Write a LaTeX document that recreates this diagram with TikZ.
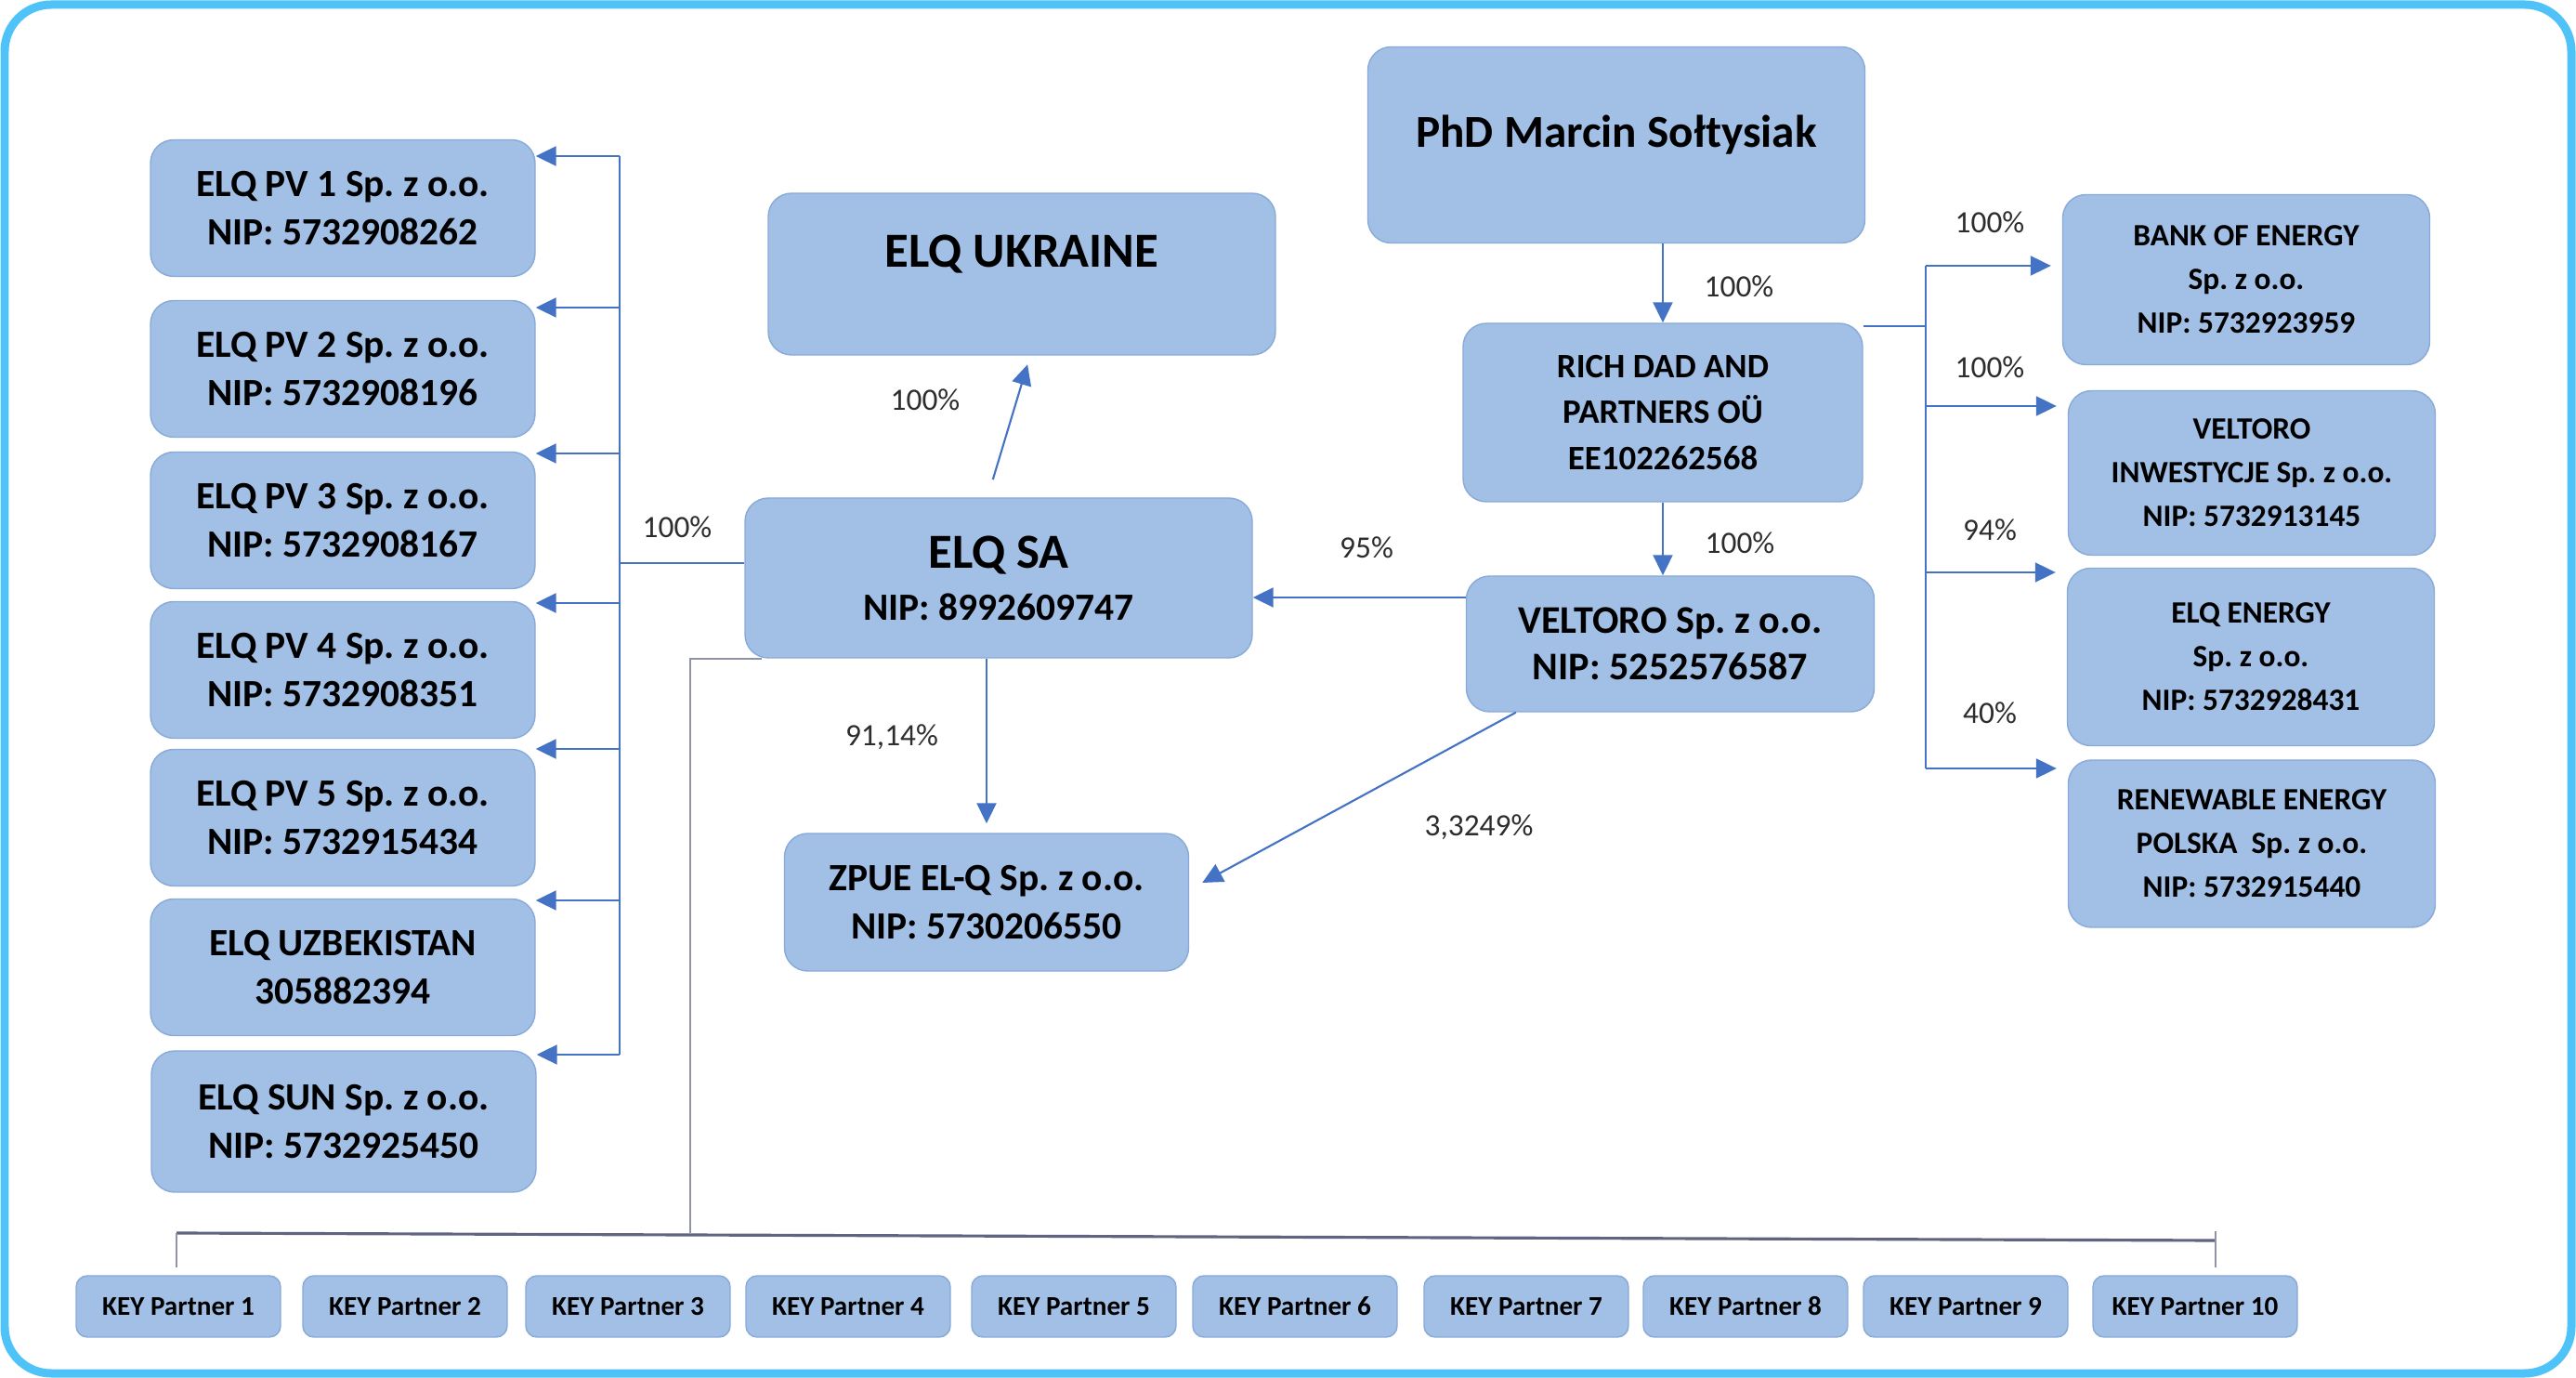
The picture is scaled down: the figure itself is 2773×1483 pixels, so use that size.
\documentclass[tikz,border=0pt]{standalone}
\usepackage{fontspec}
\setmainfont{Carlito}
\usetikzlibrary{arrows.meta}
\definecolor{boxblue}{RGB}{162,192,230}
\definecolor{boxline}{RGB}{136,170,216}
\definecolor{linkblue}{RGB}{68,114,196}
\definecolor{busgray}{RGB}{96,100,128}
\definecolor{framecyan}{RGB}{79,195,247}
\definecolor{pcttext}{RGB}{45,45,45}
\frenchspacing

\begin{document}
\begin{tikzpicture}[x=0.1mm,y=-0.1mm,
    co/.style={draw=boxline,fill=boxblue,rounded corners=0.25cm,align=center,inner sep=0pt,font=\bfseries},
    small/.style={co,minimum width=4.14cm,minimum height=1.47cm,font=\fontsize{11.8}{15}\selectfont\bfseries},
    side/.style={co,minimum width=3.95cm,font=\fontsize{9.5}{13.4}\selectfont\bfseries},
    key/.style={co,rounded corners=0.12cm,minimum width=2.2cm,minimum height=0.66cm,font=\fontsize{8.3}{9}\selectfont\bfseries},
    link/.style={draw=linkblue,line width=0.6pt},
    arr/.style={link,-{Triangle[length=0.22cm,width=0.21cm]}},
    feed/.style={draw=busgray!70,line width=0.6pt},
    bus/.style={draw=busgray,line width=0.9pt},
    pct/.style={text=pcttext,font=\fontsize{9.5}{11}\selectfont}]
        \fill[white] (0,0) rectangle (2773,1483);
        \draw[framecyan,line width=0.09cm,rounded corners=0.5cm] (5,5) rectangle (2768,1478);

        \foreach \i/\y/\nip in {1/224/5732908262,2/397/5732908196,3/560/5732908167,4/721/5732908351,5/880/5732915434}
            \node[small] (pv\i) at (369,\y) {ELQ PV \i\ Sp. z o.o.\\NIP: \nip};
        \node[small] (uzb) at (369,1041) {ELQ UZBEKISTAN\\305882394};
        \node[small,minimum height=1.52cm] (sun) at (370,1207) {ELQ SUN Sp. z o.o.\\NIP: 5732925450};

        \node[co,minimum width=5.46cm,minimum height=1.74cm,font=\fontsize{15}{18}\selectfont\bfseries,text height=0.33cm,text depth=0.47cm] (ukr) at (1100,295) {ELQ UKRAINE};
        \node[co,minimum width=5.46cm,minimum height=1.72cm,font=\fontsize{11.8}{16}\selectfont\bfseries] (elqsa) at (1075,622) {{\fontsize{15}{18}\selectfont ELQ SA}\\NIP: 8992609747};
        \node[small,minimum width=4.35cm,minimum height=1.48cm] (zpue) at (1062,971) {ZPUE EL-Q Sp. z o.o.\\NIP: 5730206550};

        \node[co,minimum width=5.35cm,minimum height=2.11cm,font=\fontsize{14}{17}\selectfont\bfseries,text depth=0.3cm] (phd) at (1740,156) {PhD Marcin Sołtysiak};
        \node[co,minimum width=4.3cm,minimum height=1.92cm,font=\fontsize{10.5}{14}\selectfont\bfseries] (rich) at (1790,444) {RICH DAD AND\\PARTNERS OÜ\\EE102262568};
        \node[co,minimum width=4.39cm,minimum height=1.46cm,font=\fontsize{12}{14.2}\selectfont\bfseries] (velt) at (1798,693) {VELTORO Sp. z o.o.\\NIP: 5252576587};

        \node[side,minimum height=1.83cm] (bank) at (2418,301) {BANK OF ENERGY\\Sp. z o.o.\\NIP: 5732923959};
        \node[side,minimum height=1.77cm] (vinw) at (2424,509) {VELTORO\\INWESTYCJE Sp. z o.o.\\NIP: 5732913145};
        \node[side,minimum height=1.91cm] (elqe) at (2423,707) {ELQ ENERGY\\Sp. z o.o.\\NIP: 5732928431};
        \node[side,minimum height=1.80cm] (renew) at (2424,908) {RENEWABLE ENERGY\\POLSKA\ \ Sp. z o.o.\\NIP: 5732915440};

        \foreach \i/\x in {1/192,2/436,3/676,4/913,5/1156,6/1394,7/1643,8/1879,9/2116,10/2363}
            \node[key] (k\i) at (\x,1406) {KEY Partner \i};

        \coordinate (hub) at (667,606);
        \draw[link] (hub) -- (hub -| elqsa.west);
        \draw[link] (667,168) -- (667,1135);
        \foreach \n/\y in {pv1/168,pv2/331,pv3/488,pv4/649,pv5/806,uzb/969,sun/1135}
            \draw[arr] (667,\y) -- (\n.east |- 0,\y);
        \node[pct] at (729,567) {100\%};

        \draw[arr,shorten <=0.2cm,shorten >=0.1cm] ([xshift=-0.12cm]elqsa.north) -- ([xshift=0.09cm]ukr.south);
        \node[pct] at (996,430) {100\%};

        \draw[arr] (rich.north |- phd.south) -- (rich.north);
        \node[pct] at (1872,308) {100\%};
        \draw[arr] (rich.south) -- (rich.south |- velt.north);
        \node[pct] at (1873,584) {100\%};
        \draw[arr] (velt.west |- 0,643) -- (elqsa.east |- 0,643);
        \node[pct] at (1471,589) {95\%};
        \draw[arr,shorten >=0.1cm] (zpue.north |- elqsa.south) -- (zpue.north);
        \node[pct] at (960,793) {91,14\%};
        \draw[arr] ([xshift=0.54cm]velt.south west) -- ([xshift=0.14cm,yshift=0.21cm]zpue.east);
        \node[pct] at (1592,890) {3,3249\%};

        \draw[link] (rich.north east |- 0,351) -- (2073,351);
        \draw[link] (2073,286) -- (2073,827);
        \foreach \n/\y/\p/\ly in {bank/286/100/239,vinw/437/100/395,elqe/616/94/570,renew/827/40/767} {
            \draw[arr,shorten >=0.12cm] (2073,\y) -- (\n.west |- 0,\y);
            \node[pct] at (2142,\ly) {\p\%};
        }

        \coordinate (drop) at (743,1327);
        \coordinate (busL) at (190,1327);
        \coordinate (busR) at (2385,1335);
        \draw[feed] ([xshift=0.19cm]elqsa.south west) -| (drop);
        \draw[bus] (busL) -- (busR);
        \draw[feed,shorten >=0.08cm] (busL) -- (busL |- k1.north);
        \draw[feed,shorten >=0.08cm] ([yshift=0.1cm]busR) -- (busR |- k10.north);
    \end{tikzpicture}
\end{document}
